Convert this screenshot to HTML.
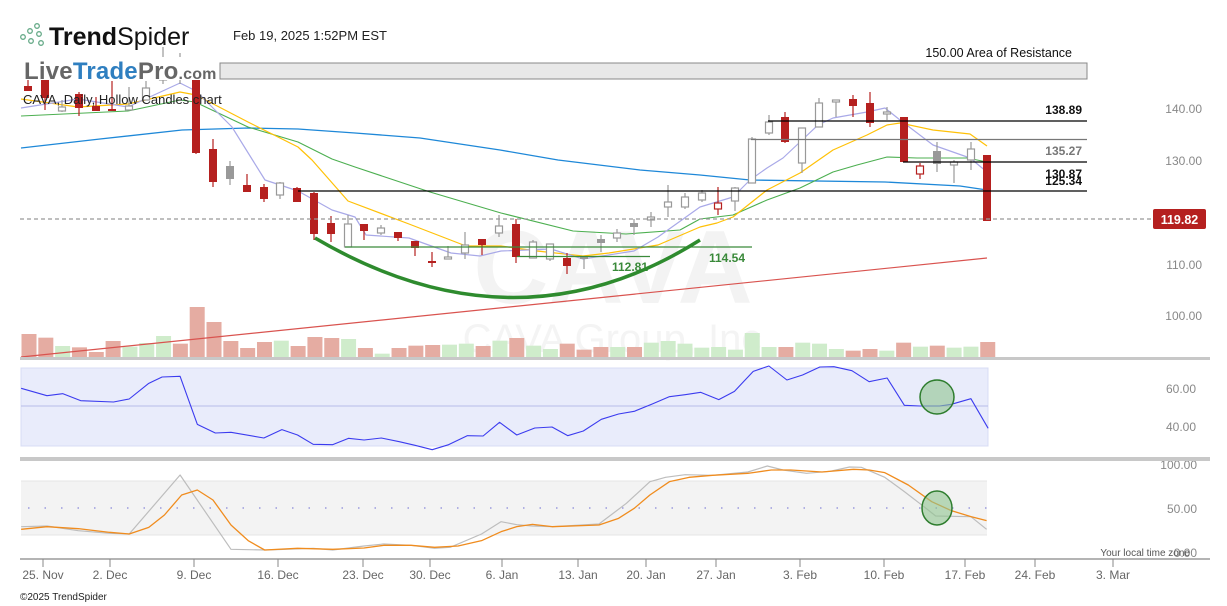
<!DOCTYPE html>
<html><head><meta charset="utf-8"><style>
html,body{margin:0;padding:0;background:#fff;width:1227px;height:606px;overflow:hidden}
svg{display:block;font-family:"Liberation Sans",sans-serif}
</style></head><body>
<svg id="s" width="1227" height="606" viewBox="0 0 1227 606" xmlns="http://www.w3.org/2000/svg">
<text x="613" y="303" text-anchor="middle" font-size="104" font-weight="bold" fill="#f3f3f3">CAVA</text>
<text x="612" y="352" text-anchor="middle" font-size="40" fill="#f4f4f4">CAVA Group, Inc</text>
<rect x="220" y="63" width="867" height="16" fill="#e8e8e8" stroke="#888" stroke-width="1"/>
<text x="1072" y="57" text-anchor="end" font-size="12.5" fill="#111">150.00 Area of Resistance</text>
<g id="main"></g>
<line x1="768" y1="121" x2="1087" y2="121" stroke="#000" stroke-width="1.3"/>
<line x1="751" y1="139.5" x2="1087" y2="139.5" stroke="#777" stroke-width="1.3"/>
<line x1="903" y1="162" x2="1087" y2="162" stroke="#000" stroke-width="1.3"/>
<line x1="298" y1="191" x2="1087" y2="191" stroke="#000" stroke-width="1.3"/>
<line x1="20" y1="219" x2="1155" y2="219" stroke="#999" stroke-width="1.2" stroke-dasharray="4,3"/>
<line x1="345" y1="247" x2="752" y2="247" stroke="#3a8a3a" stroke-width="1.3"/>
<line x1="517" y1="256.5" x2="650" y2="256.5" stroke="#3a8a3a" stroke-width="1.3"/>
<text x="1082" y="114" text-anchor="end" font-size="12" font-weight="bold" fill="#111">138.89</text>
<text x="1082" y="155" text-anchor="end" font-size="12" font-weight="bold" fill="#777">135.27</text>
<text x="1082" y="178" text-anchor="end" font-size="12" font-weight="bold" fill="#111">130.87</text>
<text x="1082" y="185" text-anchor="end" font-size="12" font-weight="bold" fill="#111">125.34</text>
<text x="745" y="262" text-anchor="end" font-size="12" font-weight="bold" fill="#3a8a3a">114.54</text>
<text x="648" y="271" text-anchor="end" font-size="12" font-weight="bold" fill="#3a8a3a">112.81</text>
<path d="M315,238 Q516,356 700,240" fill="none" stroke="#2e8b2e" stroke-width="3.5"/>
<line x1="21" y1="357" x2="987" y2="258" stroke="#d9534f" stroke-width="1.2"/>
<rect x="1153" y="209" width="53" height="20" rx="2" fill="#b5201f"/>
<text x="1179.5" y="224" text-anchor="middle" font-size="12.5" font-weight="bold" fill="#fff">119.82</text>
<g font-size="12" fill="#888" text-anchor="end">
<text x="1202" y="113">140.00</text><text x="1202" y="165">130.00</text>
<text x="1202" y="269">110.00</text><text x="1202" y="320">100.00</text>
<text x="1196" y="393">60.00</text><text x="1196" y="431">40.00</text>
<text x="1197" y="469">100.00</text><text x="1197" y="513">50.00</text><text x="1197" y="557">0.00</text>
</g>
<rect x="20" y="357" width="1190" height="3" fill="#c8c8c8"/>
<rect x="20" y="457" width="1190" height="4" fill="#c8c8c8"/>
<rect x="21" y="368" width="967" height="78" fill="#e9ecfb" stroke="#d8dcf5"/>
<line x1="21" y1="406" x2="988" y2="406" stroke="#b8bce8" stroke-width="1"/>
<g id="rsi"></g>
<ellipse cx="937" cy="397" rx="17" ry="17" fill="#8fc48f" fill-opacity="0.6" stroke="#2e7d2e" stroke-width="1.5"/>
<rect x="21" y="481" width="966" height="54" fill="#f3f3f3"/>
<line x1="21" y1="481" x2="987" y2="481" stroke="#e4e4e4"/>
<line x1="21" y1="535" x2="987" y2="535" stroke="#e4e4e4"/>
<line x1="28" y1="508" x2="987" y2="508" stroke="#9999dd" stroke-width="1.5" stroke-dasharray="1.5,15"/>
<g id="sto"></g>
<ellipse cx="937" cy="508" rx="15" ry="17" fill="#8fc48f" fill-opacity="0.6" stroke="#2e7d2e" stroke-width="1.5"/>
<text x="1190" y="556" text-anchor="end" font-size="10" fill="#555">Your local time zone</text>
<line x1="20" y1="559" x2="1210" y2="559" stroke="#888" stroke-width="1.2"/>
<g id="ticks" font-size="12" fill="#666" text-anchor="middle"></g>
<text x="20" y="600" font-size="10" fill="#222">©2025 TrendSpider</text>
<g fill="none" stroke="#6a8" stroke-width="1.3">
<circle cx="23" cy="37" r="2.3"/><circle cx="30" cy="31" r="2.3"/><circle cx="37" cy="26" r="2.3"/>
<circle cx="31" cy="41" r="2.3"/><circle cx="39" cy="34" r="2.3"/><circle cx="41" cy="43" r="2.3"/>
</g>
<text x="49" y="45" font-size="25" fill="#111"><tspan font-weight="bold">Trend</tspan><tspan>Spider</tspan></text>
<text x="233" y="40" font-size="13" fill="#222">Feb 19, 2025 1:52PM EST</text>
<rect x="22" y="57" width="197" height="23" fill="#fff"/>
<text x="24" y="79" font-size="24" font-weight="bold" fill="#666" letter-spacing="0.2"><tspan>Live</tspan><tspan fill="#2f7fc0">Trade</tspan><tspan>Pro</tspan><tspan font-size="16">.com</tspan></text>
<text x="23" y="104" font-size="13" fill="#222">CAVA, Daily, Hollow Candles chart</text>
</svg>
<script>
const NS="http://www.w3.org/2000/svg";
function el(p,t,a){const e=document.createElementNS(NS,t);for(const k in a)e.setAttribute(k,a[k]);p.appendChild(e);return e;}
const main=document.getElementById('main');
const vol=[[27,102,'r'],[50,113,'r'],[70,138,'g'],[92,142,'r'],[114,156,'r'],[135,123,'r'],[157,140,'g'],[178,129,'g'],[199,108,'g'],[221,131,'r'],[243,21,'r'],[264,66,'r'],[286,123,'r'],[307,144,'r'],[329,126,'r'],[350,122,'g'],[371,138,'r'],[393,111,'r'],[414,114,'r'],[436,117,'g'],[457,144,'r'],[479,161,'g'],[500,144,'r'],[521,137,'r'],[543,135,'r'],[564,134,'g'],[586,131,'g'],[607,138,'r'],[628,122,'g'],[650,114,'r'],[671,137,'g'],[693,147,'g'],[714,131,'r'],[736,149,'r'],[757,141,'r'],[779,141,'g'],[800,141,'r'],[822,128,'g'],[843,123,'g'],[865,131,'g'],[886,143,'g'],[907,141,'g'],[929,149,'g'],[950,99,'g'],[972,141,'g'],[993,141,'r'],[1015,128,'g'],[1037,131,'g'],[1058,147,'g'],[1080,152,'r'],[1101,147,'r'],[1123,152,'g'],[1144,128,'r'],[1166,140,'g'],[1187,137,'r'],[1209,143,'g'],[1230,140,'g'],[1252,126,'r']];
vol.forEach((v,i)=>{const x=21.5+i*16.82;const y=300+v[1]/3;el(main,'rect',{x:x,y:y,width:15,height:357-y,fill:v[2]=='r'?'#e5aca2':'#cfeccb'});});
function pl(p,pts,c,w){el(p,'polyline',{points:pts.map(q=>q.join(',')).join(' '),fill:'none',stroke:c,'stroke-width':w||1.2,'stroke-linejoin':'round'});}
pl(main,[[21,148],[100,139],[182,130],[248,128],[298,129],[355,133],[420,138],[500,150],[558,160],[640,170],[700,175],[750,180],[885,182],[960,186],[987,190]],'#1e88d8',1.3);
pl(main,[[21,116],[128,111],[180,100],[195,102],[248,127],[298,142],[332,159],[355,167],[430,192],[501,213],[573,231],[626,234],[680,230],[700,219],[733,215],[767,200],[800,188],[833,172],[857,165],[887,157],[917,158],[967,158],[987,162]],'#4caf50',1.1);
pl(main,[[21,99],[78,107],[128,104],[180,92],[196,95],[248,122],[298,147],[312,160],[348,201],[409,224],[466,246],[501,246],[537,251],[583,256],[609,253],[658,245],[700,227],[717,223],[733,217],[767,190],[800,173],[833,150],[867,135],[887,125],[900,123],[933,130],[970,134],[987,146]],'#ffc107',1.2);
pl(main,[[21,108],[78,99],[128,107],[180,83],[196,91],[232,127],[265,180],[298,191],[332,210],[355,217],[366,235],[409,238],[451,253],[480,256],[501,251],[551,249],[583,259],[634,251],[658,237],[700,207],[733,197],[750,180],[767,168],[783,158],[800,142],[818,125],[833,118],[867,112],[885,108],[900,120],[933,145],[970,158],[987,172]],'#a9a9e8',1.2);
const C=[[28,86,91,79,91,'R'],[45,72,98,62,110,'R'],[62,107,111,100,112,'H'],[79,94,108,92,116,'R'],[96,106,111,97,111,'R'],[112,109,111,81,111,'R'],[129,106,110,87,110,'H'],[146,88,100,81,100,'H'],[163,62,80,47,84,'H'],[180,64,78,53,84,'H'],[196,78,153,78,154,'R'],[213,149,182,139,187,'R'],[230,166,179,161,185,'G'],[247,185,192,174,192,'R'],[264,187,199,184,202,'R'],[280,183,195,182,199,'H'],[297,188,202,187,202,'R'],[314,193,234,192,240,'R'],[331,223,234,216,242,'R'],[348,224,247,215,247,'H'],[364,224,231,224,240,'R'],[381,228,233,225,235,'H'],[398,232,238,232,241,'R'],[415,241,248,241,256,'R'],[432,261,263,252,267,'R'],[448,257,259,246,259,'H'],[465,245,253,232,259,'H'],[482,239,245,239,255,'R'],[499,226,233,215,237,'H'],[516,224,257,219,263,'R'],[533,242,258,240,258,'H'],[550,244,259,244,261,'H'],[567,258,266,253,274,'R'],[584,257,259,257,269,'G'],[601,239,243,235,252,'G'],[617,233,238,229,242,'H'],[634,223,227,219,235,'G'],[651,217,220,212,227,'H'],[668,202,207,185,217,'H'],[685,197,207,193,209,'H'],[702,193,200,190,202,'H'],[718,203,209,187,215,'r'],[735,188,201,187,211,'H'],[752,139,183,137,183,'H'],[769,122,133,115,135,'H'],[785,117,142,112,143,'R'],[802,128,163,128,173,'H'],[819,103,127,98,127,'H'],[836,100,102,100,117,'H'],[853,99,106,95,117,'R'],[870,103,123,92,127,'R'],[887,112,114,107,120,'H'],[904,117,162,117,162,'R'],[920,166,174,163,179,'r'],[937,151,164,142,172,'G'],[954,162,165,160,183,'H'],[971,149,160,142,170,'H'],[987,155,221,155,221,'R']];
C.forEach(c=>{const [x,t,b,h,l,k]=c;const col=(k=='R'||k=='r')?'#b5201f':'#999';
el(main,'line',{x1:x,y1:h,x2:x,y2:l,stroke:col,'stroke-width':1.2});
const hollow=(k=='H'||k=='r');
el(main,'rect',{x:hollow?x-3.5:x-4,y:t,width:hollow?7:8,height:Math.max(b-t,1.5),fill:hollow?'#fff':col,stroke:hollow?col:'none','stroke-width':1.2});});
const R=[[27,265],[60,287],[80,281],[103,302],[145,306],[165,297],[190,250],[207,231],[230,229],[252,373],[275,399],[295,397],[337,414],[360,389],[380,405],[400,433],[425,434],[445,415],[465,420],[487,414],[510,425],[530,436],[552,449],[573,434],[597,407],[617,408],[638,367],[660,405],[683,384],[705,381],[725,407],[745,393],[768,358],[790,342],[810,334],[833,312],[855,290],[875,284],[895,277],[918,299],[938,274],[962,214],[982,198],[1005,240],[1025,225],[1047,201],[1065,200],[1088,212],[1110,245],[1133,234],[1155,316],[1175,318],[1200,318],[1215,313],[1240,296],[1262,385]];
pl(document.getElementById('rsi'),R.map(p=>[p[0]*0.783,300+p[1]/3]),'#3b3bef',1.1);
const G=[[27,260],[60,258],[100,272],[140,280],[165,282],[230,105],[295,328],[340,330],[400,325],[425,330],[465,318],[490,312],[525,316],[555,325],[575,322],[615,282],[640,245],[660,254],[680,258],[705,260],[765,252],[800,190],[830,125],[850,112],[875,104],[910,106],[955,96],[980,78],[1000,90],[1030,100],[1060,94],[1085,81],[1100,82],[1130,112],[1155,155],[1180,200],[1195,228],[1240,230],[1260,268]];
const O=[[27,268],[60,260],[100,266],[140,277],[165,282],[190,262],[210,225],[232,165],[252,150],[272,180],[295,255],[317,302],[338,330],[380,325],[425,328],[465,324],[490,316],[525,316],[555,322],[585,318],[615,302],[640,275],[660,260],[680,253],[705,260],[765,255],[790,235],[810,205],[830,165],[855,125],[880,112],[910,106],[955,100],[985,90],[1010,90],[1050,96],[1090,88],[1110,90],[1130,98],[1160,135],[1190,185],[1215,212],[1240,230],[1260,242]];
const st=document.getElementById('sto');
pl(st,G.map(p=>[p[0]*0.783,440+p[1]/3]),'#bdbdbd',1.2);
pl(st,O.map(p=>[p[0]*0.783,440+p[1]/3]),'#f08c1e',1.3);
const T=[[43,'25. Nov'],[110,'2. Dec'],[194,'9. Dec'],[278,'16. Dec'],[363,'23. Dec'],[430,'30. Dec'],[502,'6. Jan'],[578,'13. Jan'],[646,'20. Jan'],[716,'27. Jan'],[800,'3. Feb'],[884,'10. Feb'],[965,'17. Feb'],[1035,'24. Feb'],[1113,'3. Mar']];
const tg=document.getElementById('ticks');
T.forEach(t=>{el(tg,'line',{x1:t[0],y1:559,x2:t[0],y2:567,stroke:'#888'});const e=el(tg,'text',{x:t[0],y:579});e.textContent=t[1];});
</script>
</body></html>
